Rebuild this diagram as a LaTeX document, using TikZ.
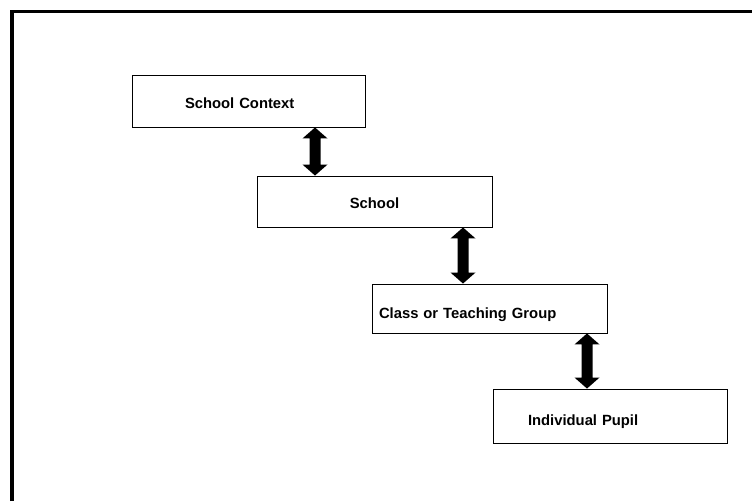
\documentclass[tikz,border=0pt]{standalone}
\usepackage{fontspec}
\setmainfont{Liberation Sans}
\usetikzlibrary{calc}

% block double arrow between the bottom of one box and the top of the next,
% at a given horizontal position
\newcommand{\levellink}[3]{%
  \fill[linkfill] let \p1 = (#3 |- #1.south), \p2 = (#3 |- #2.north) in
    (\x1,\y1) -- (\x1+12.5pt,\y1-11pt) -- (\x1+5.5pt,\y1-11pt)
    -- (\x1+5.5pt,\y2+11pt) -- (\x1+12.5pt,\y2+11pt) -- (\x1,\y2)
    -- (\x1-12.5pt,\y2+11pt) -- (\x1-5.5pt,\y2+11pt)
    -- (\x1-5.5pt,\y1-11pt) -- (\x1-12.5pt,\y1-11pt) -- cycle;}

\tikzset{
  levelbox/.style={draw=black, line width=0.9pt, fill=white,
    minimum height=#1, inner ysep=0pt, text depth=0pt,
    font=\fontsize{14.8}{17}\selectfont\bfseries},
  linkfill/.style={fill=black},
  frameline/.style={draw=black, line width=3.2pt}
}

\begin{document}
\begin{tikzpicture}[x=1pt, y=-1pt]
  \useasboundingbox (0,0) rectangle (752,501);

  % page frame: left and top rules
  \coordinate (fa) at (12,501);
  \coordinate (fb) at (12,11.5);
  \coordinate (fc) at (752,11.5);
  \draw[frameline] (fa) -- (fb) -- (fc);

  % the four nested levels (text height sets how far each label sits below the middle)
  \node[levelbox=52pt, minimum width=233pt, inner xsep=53pt, text height=14.4pt,
        text width=127pt, align=left] (ctx) at (248.5,101) {School Context};
  \node[levelbox=51pt, minimum width=235pt, inner xsep=4pt, text height=13.4pt,
        text width=227pt, align=center] (sch) at (374.5,201.5) {School};
  \node[levelbox=49pt, minimum width=235pt, inner xsep=7pt, text height=19pt,
        text width=221pt, align=left] (cls) at (489.5,308.5) {Class or Teaching Group};
  \node[levelbox=54pt, minimum width=234pt, inner xsep=35pt, text height=18.4pt,
        text width=164pt, align=left] (pup) at (610,416) {Individual Pupil};

  % horizontal positions of the links
  \coordinate (x1) at (315,0);
  \coordinate (x2) at (463,0);
  \coordinate (x3) at (587,0);

  \levellink{ctx}{sch}{x1}
  \levellink{sch}{cls}{x2}
  \levellink{cls}{pup}{x3}
\end{tikzpicture}
\end{document}
